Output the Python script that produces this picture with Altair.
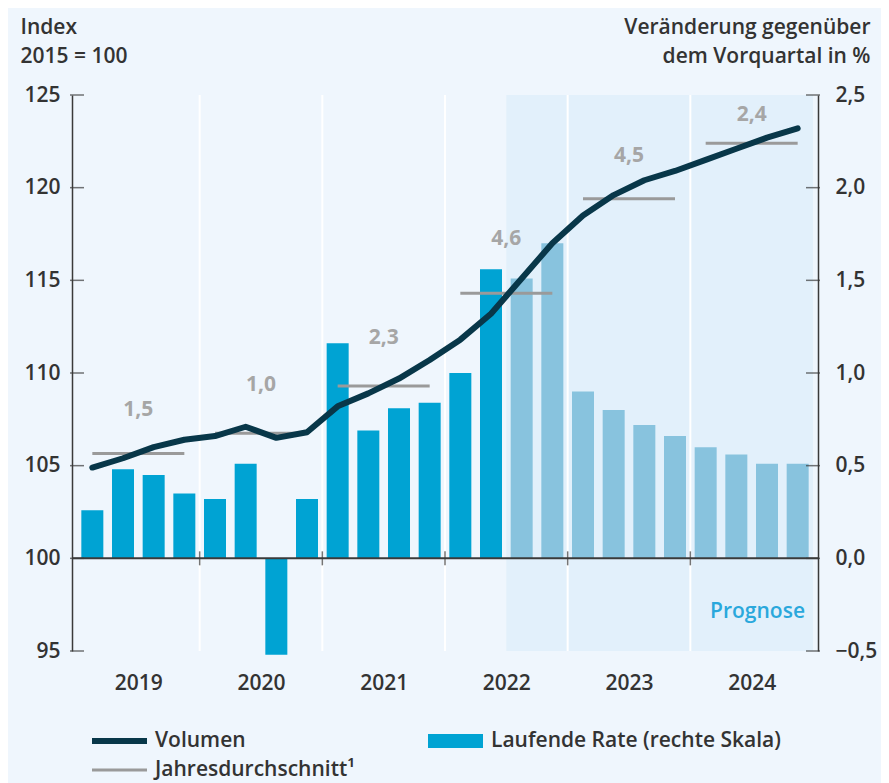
import altair as alt
import pandas as pd

# ---- data ----
years = [2019, 2020, 2021, 2022, 2023, 2024]
rate = [0.26, 0.48, 0.45, 0.35,
        0.32, 0.51, -0.52, 0.32,
        1.16, 0.69, 0.81, 0.84,
        1.00, 1.56, 1.51, 1.70,
        0.90, 0.80, 0.72, 0.66,
        0.60, 0.56, 0.51, 0.51]
volume = [104.9, 105.4, 106.0, 106.4,
          106.6, 107.1, 106.5, 106.8,
          108.2, 108.9, 109.7, 110.7,
          111.8, 113.2, 115.1, 117.0,
          118.5, 119.6, 120.4, 120.9,
          121.5, 122.1, 122.7, 123.2]
avg_level = [105.65, 106.75, 109.3, 114.3, 119.4, 122.4]
avg_label = ["1,5", "1,0", "2,3", "4,6", "4,5", "2,4"]
avg_label_level = [108.0, 109.35, 111.9, 117.25, 121.7, 123.9]
forecast_start = 14  # 2022 Q3
left_ticks = [95, 100, 105, 110, 115, 120, 125]
right_ticks = [-0.5, 0.0, 0.5, 1.0, 1.5, 2.0, 2.5]
legend_items = ["Volumen", "Laufende Rate (rechte Skala)", "Jahresdurchschnitt\u00b9"]

FONT = "Open Sans"
FW = 600
FS = 21
C_BAR = "#00a3d3"
C_BAR_F = "#88c3de"
C_LINE = "#083749"
C_AVG = "#9a9a9a"
C_AVG_TXT = "#a6a6a6"
C_AXIS = "#3a3a3a"
C_TXT = "#333333"

n = len(rate)
df = pd.DataFrame({
    "xm": [k + 0.5 for k in range(n)],
    "rate": rate,
    "volume": volume,
    "fc": ["Prognose" if k >= forecast_start else "Ist" for k in range(n)],
})
avg_df = pd.DataFrame({
    "year": years,
    "x1": [4 * k + 0.5 for k in range(len(years))],
    "x2": [4 * k + 3.5 for k in range(len(years))],
    "xc": [4 * k + 2 for k in range(len(years))],
    "lvl": avg_level,
    "lab_lvl": avg_label_level,
    "lab": avg_label,
})
bound_df = pd.DataFrame({"b": [4 * k for k in range(1, len(years))]})
shade_df = pd.DataFrame({"s": [forecast_start], "e": [n]})
tick_df = pd.DataFrame({
    "x": [0] * len(left_ticks) + [n] * len(left_ticks),
    "y": left_ticks + left_ticks,
})
prog_df = pd.DataFrame({"x": [n], "y": [97.1], "t": ["Prognose"]})

W, H = 746, 556
xscale = alt.Scale(domain=[0, n], nice=False, zero=False)
yL = alt.Scale(domain=[95, 125], nice=False, zero=False)
yR = alt.Scale(domain=[-0.5, 2.5], nice=False, zero=False)

x_axis = alt.Axis(
    values=[4 * k + 2 for k in range(len(years))],
    labelExpr="'' + (2019 + floor(datum.value / 4))",
    ticks=False, domain=False, grid=False,
    labelPadding=21, labelFontSize=FS, labelFont=FONT, labelFontWeight=FW,
    labelColor=C_TXT, title=None,
)
yL_axis = alt.Axis(
    values=left_ticks, ticks=False, domain=True, domainColor=C_AXIS,
    domainWidth=1.5, grid=False, labelPadding=12, labelFontSize=FS,
    labelFont=FONT, labelFontWeight=FW, labelColor=C_TXT,
    title=["Index", "2015 = 100"], titleAngle=0, titleAlign="left",
    titleBaseline="alphabetic", titleX=-52, titleY=-62, titleLineHeight=29,
    titleFontSize=FS, titleFont=FONT, titleFontWeight=FW, titleColor=C_TXT,
)
yR_axis = alt.Axis(
    orient="right", values=right_ticks,
    labelExpr="replace(format(datum.value, '.1f'), '.', ',')",
    ticks=False, domain=True, domainColor=C_AXIS, domainWidth=1.5,
    grid=False, labelPadding=17, labelFontSize=FS, labelFont=FONT,
    labelFontWeight=FW, labelColor=C_TXT,
    title=["Veränderung gegenüber", "dem Vorquartal in %"],
    titleAngle=0, titleAlign="right", titleBaseline="alphabetic",
    titleX=52, titleY=-62, titleLineHeight=29, titleFontSize=FS,
    titleFont=FONT, titleFontWeight=FW, titleColor=C_TXT,
)

def X(field):
    return alt.X(field, scale=xscale, axis=x_axis)

def YL(field):
    return alt.Y(field, scale=yL, axis=yL_axis)

# ---- group A: right scale ----
shade = alt.Chart(shade_df).mark_rect(color="#e2f0fb").encode(
    x=X("s:Q"), x2="e:Q", y=alt.value(0), y2=alt.value(H),
)
grid = alt.Chart(bound_df).mark_rule(color="white", strokeWidth=2).encode(
    x=X("b:Q"),
)
bars = alt.Chart(df).mark_bar(width=22).encode(
    x=X("xm:Q"),
    y=alt.Y("rate:Q", scale=yR, axis=yR_axis),
    color=alt.Color("fc:N", scale=alt.Scale(domain=["Ist", "Prognose"], range=[C_BAR, C_BAR_F]), legend=None),
)
groupA = alt.layer(shade, grid, bars)

# ---- group B: left scale ----
zero = alt.Chart(pd.DataFrame({"y": [100]})).mark_rule(color=C_AXIS, strokeWidth=2).encode(
    y=YL("y:Q"),
)
yticks = alt.Chart(tick_df).mark_tick(orient="horizontal", size=14, thickness=1.5, color=C_AXIS).encode(
    x=X("x:Q"), y=YL("y:Q"),
)
bticks = alt.Chart(bound_df.assign(y=100)).mark_tick(orient="vertical", size=14, thickness=1.5, color=C_AXIS).encode(
    x=X("b:Q"), y=YL("y:Q"),
)
avg_rules = alt.Chart(avg_df).mark_rule(color=C_AVG, strokeWidth=3).encode(
    x=X("x1:Q"), x2="x2:Q", y=YL("lvl:Q"),
)
avg_text = alt.Chart(avg_df).mark_text(
    baseline="middle", align="center", font=FONT, fontSize=FS,
    fontWeight=700, color=C_AVG_TXT,
).encode(
    x=X("xc:Q"), y=YL("lab_lvl:Q"), text="lab:N",
)
line = alt.Chart(df).mark_line(color=C_LINE, strokeWidth=6, strokeCap="round", strokeJoin="round").encode(
    x=X("xm:Q"), y=YL("volume:Q"),
)
prog = alt.Chart(prog_df).mark_text(
    dx=-8, align="right", baseline="middle", font=FONT, fontSize=FS,
    fontWeight=FW, color="#2aa8dc",
).encode(
    x=X("x:Q"), y=YL("y:Q"), text="t:N",
)
groupB = alt.layer(zero, yticks, bticks, avg_rules, avg_text, line, prog)

# ---- legend: one single-entry legend per series ----
leg_paths = [
    "M-4,-0.27H1V0.27H-4Z",
    "M-4,-0.64H1V0.64H-4Z",
    "M-4,-0.14H1V0.14H-4Z",
]
leg_colors = [C_LINE, C_BAR, C_AVG]
leg_pos = [(53, 635), (389, 635), (53, 664)]

def legend_layer(k):
    d = pd.DataFrame({"leg": [legend_items[k]], "x": [0.5], "y": [100]})
    return alt.Chart(d).mark_point(filled=True, opacity=0).encode(
        x=X("x:Q"),
        y=alt.Y("y:Q", scale=yL, axis=None),
        color=alt.Color("leg:N", scale=alt.Scale(domain=[legend_items[k]], range=[leg_colors[k]]),
                        legend=alt.Legend(
                            title=None, orient="none", legendX=leg_pos[k][0], legendY=leg_pos[k][1],
                            padding=0, symbolType=leg_paths[k], symbolSize=484,
                            symbolOpacity=1, symbolStrokeWidth=0, labelOffset=8,
                            labelFont=FONT, labelFontSize=FS, labelFontWeight=FW,
                            labelColor=C_TXT, labelLimit=400,
                        )),
    )

chart = alt.layer(
    groupA, groupB, legend_layer(0), legend_layer(1), legend_layer(2)
).resolve_scale(
    y="independent", color="independent"
).properties(
    width=W, height=H,
    autosize=alt.AutoSizeParams(type="none"),
    padding={"left": 64, "top": 87, "right": 63, "bottom": 132},
    background="#eff6fd",
).configure_view(stroke=None)

chart.save("out.html", embed_options={"renderer": "svg", "actions": False})
